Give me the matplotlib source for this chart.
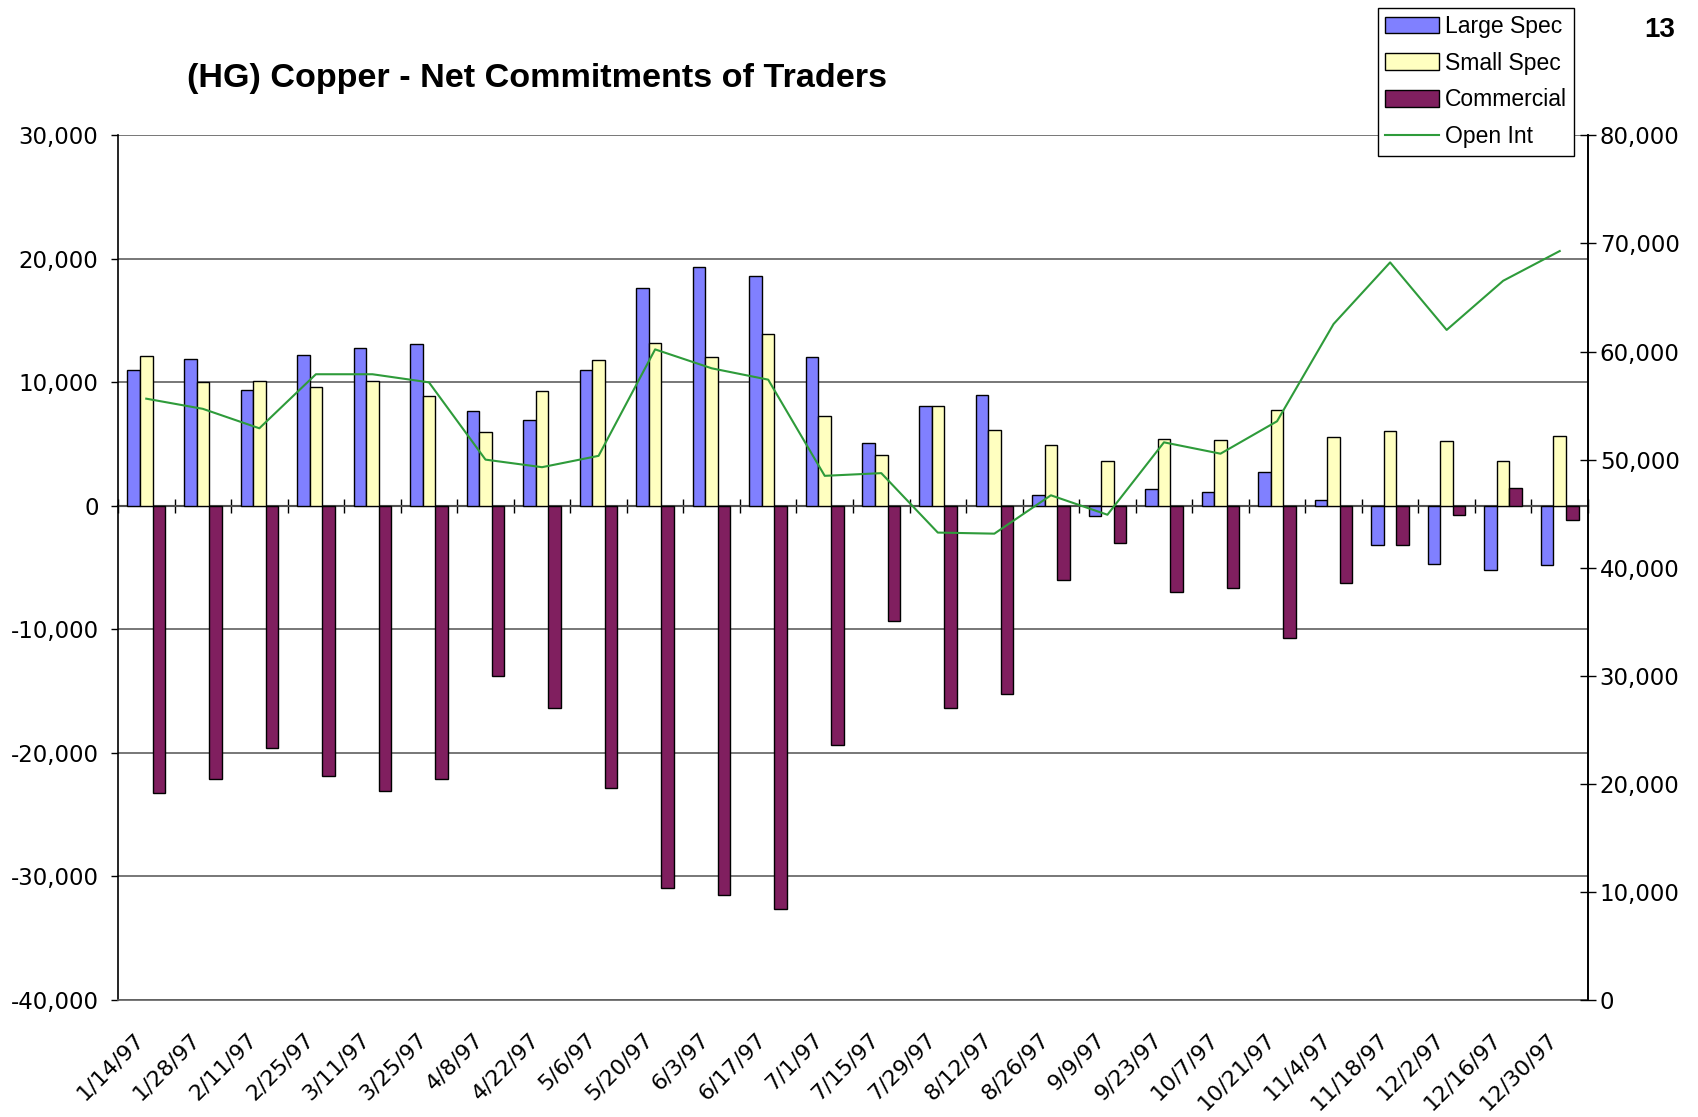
import numpy as np
import matplotlib.pyplot as plt
import matplotlib.transforms as mtrans
from matplotlib.ticker import FuncFormatter, MultipleLocator

# dados
dates = ['1/14/97', '1/28/97', '2/11/97', '2/25/97', '3/11/97', '3/25/97', '4/8/97',
         '4/22/97', '5/6/97', '5/20/97', '6/3/97', '6/17/97', '7/1/97', '7/15/97',
         '7/29/97', '8/12/97', '8/26/97', '9/9/97', '9/23/97', '10/7/97', '10/21/97',
         '11/4/97', '11/18/97', '12/2/97', '12/16/97', '12/30/97']
large_spec = [11000, 11900, 9400, 12200, 12800, 13150, 7700, 6950, 11000, 17650,
              19330, 18650, 12020, 5120, 8090, 8980, 890, -810, 1370, 1130,
              2740, 460, -3150, -4660, -5150, -4770]
small_spec = [12130, 10050, 10110, 9650, 10110, 8870, 5960, 9270, 11780, 13210,
              12050, 13940, 7280, 4100, 8090, 6120, 4930, 3640, 5390, 5300,
              7740, 5570, 6090, 5230, 3610, 5660]
commercial = [-23240, -22130, -19570, -21880, -23040, -22130, -13760, -16320, -22820, -30970,
              -31520, -32630, -19350, -9280, -16320, -15260, -5960, -2980, -6930, -6670,
              -10700, -6230, -3150, -750, 1480, -1130]
open_int = [55640, 54700, 52900, 57900, 57900, 57150, 50000, 49300, 50350, 60200,
            58450, 57400, 48500, 48750, 43250, 43150, 46700, 44900, 51600, 50550,
            53550, 62550, 68250, 62000, 66550, 69300]

c_large = '#8080FF'
c_small = '#FFFFC0'
c_comm = '#801F5F'
c_oi = '#2E9B3A'
c_grid = '#606060'

fmt = FuncFormatter(lambda v, p: '{:,.0f}'.format(v))

fig = plt.figure(figsize=(16.99, 11.17), dpi=100)
ax = fig.add_axes([118/1699, 1 - 1000/1117, 1470/1699, (1000 - 135.4)/1117])

n = len(dates)
x = np.arange(n) + 0.5
w = 1 / 4.5  # gap width 150%

kw = dict(width=w, edgecolor='black', linewidth=1.0, zorder=3)
b1 = ax.bar(x - w, large_spec, color=c_large, label='Large Spec', **kw)
b2 = ax.bar(x, small_spec, color=c_small, label='Small Spec', **kw)
b3 = ax.bar(x + w, commercial, color=c_comm, label='Commercial', **kw)

ax.set_xlim(0, n)
ax.set_ylim(-40000, 30000)
ax.yaxis.set_major_locator(MultipleLocator(10000))
ax.yaxis.set_major_formatter(fmt)
ax.yaxis.grid(True, color=c_grid, linewidth=1.2, zorder=0)
ax.set_axisbelow(True)
ax.tick_params(axis='y', direction='out', length=5, width=1, pad=9, labelsize=16.5)

ax.spines['top'].set_visible(False)
ax.spines['left'].set_linewidth(1.2)
ax.spines['right'].set_linewidth(1.2)
ax.spines['bottom'].set_color(c_grid)
ax.spines['bottom'].set_linewidth(1.2)

# rotulos das datas embaixo
ax.set_xticks(x)
ax.set_xticklabels(dates, rotation=45, ha='right', va='center', rotation_mode='anchor',
                   fontsize=16)
ax.tick_params(axis='x', length=0, pad=26)
offs = mtrans.ScaledTranslation(-4/72, 0, fig.dpi_scale_trans)
for lb in ax.get_xticklabels():
    lb.set_transform(lb.get_transform() + offs)

# eixo x no zero com os tracinhos entre categorias
sec = ax.secondary_xaxis(0, transform=ax.transData)
sec.set_xticks(np.arange(n + 1))
sec.set_xticklabels([])
sec.tick_params(axis='x', direction='inout', length=10, width=1.0, color='black')
sec.spines['bottom'].set_color('black')
sec.spines['bottom'].set_linewidth(1.5)

# open interest no eixo da direita
ax2 = ax.twinx()
l1, = ax2.plot(x, open_int, color=c_oi, linewidth=1.5, label='Open Int', zorder=5)
ax2.set_ylim(0, 80000)
ax2.yaxis.set_major_locator(MultipleLocator(10000))
ax2.yaxis.set_major_formatter(fmt)
ax2.tick_params(axis='y', direction='inout', length=11, width=1, pad=3, labelsize=16.5)
for s in ['top', 'left', 'bottom']:
    ax2.spines[s].set_visible(False)
ax2.spines['right'].set_linewidth(1.2)

fig.text(537/1699, 1 - 78/1117, '(HG) Copper - Net Commitments of Traders',
         ha='center', va='center', fontsize=24.6, fontweight='bold', family='Liberation Sans')
fig.text(1660/1699, 1 - 30/1117, '13', ha='center', va='center', fontsize=20,
         fontweight='bold', family='Liberation Sans')

leg = fig.legend([b1, b2, b3, l1], ['Large Spec', 'Small Spec', 'Commercial', 'Open Int'],
                 loc='upper left', bbox_to_anchor=(1378/1699, 1 - 7.6/1117),
                 borderaxespad=0, fancybox=False, framealpha=1, edgecolor='black',
                 prop={'family': 'Liberation Sans', 'size': 16.5},
                 handlelength=2.35, handleheight=0.75, handletextpad=0.25,
                 labelspacing=0.6, borderpad=0.32)
leg.get_frame().set_linewidth(1.0)

fig.savefig('out.png', dpi=100)
